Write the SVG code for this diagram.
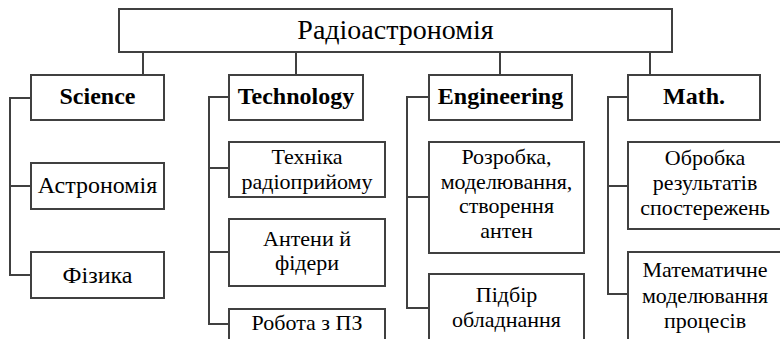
<svg xmlns="http://www.w3.org/2000/svg" width="780" height="339" viewBox="0 0 780 339" font-family="Liberation Serif, Times New Roman, Times, serif">
<style>
rect{fill:#fff;stroke:#404040;stroke-width:2}
.c{fill:none;stroke:#404040;stroke-width:2}
text{fill:#000;text-anchor:middle}
.t{font-size:28px}
.h{font-size:24px;font-weight:bold}
.n{font-size:22px}
.s{font-size:24px}
</style>
<rect x="0" y="0" width="780" height="339" style="stroke:none"/>
<g id="connectors">
<path class="c" d="M143 52V75M296 52V75M500 52V75M650 52V75"/>
<path class="c" d="M31 98H10V275H31M10 186H31"/>
<path class="c" d="M229 97H209V324H229M209 168H229M209 252H229"/>
<path class="c" d="M429 97H407V308H429M407 197H429"/>
<path class="c" d="M628 97H608V294H628M608 186H628"/>
</g>
<g id="root"><rect x="119" y="9" width="553" height="43"/><text class="t" x="395.5" y="39" font-family="Liberation Serif">Радіоастрономія</text></g>
<g id="science"><rect x="31" y="75" width="133" height="45"/><text class="h" x="97.5" y="104">Science</text></g>
<g id="technology"><rect x="229" y="75" width="134" height="45"/><text class="h" x="296" y="104">Technology</text></g>
<g id="engineering"><rect x="429" y="75" width="143" height="45"/><text class="h" x="500.5" y="104">Engineering</text></g>
<g id="math"><rect x="628" y="75" width="132" height="45"/><text class="h" x="694" y="104">Math.</text></g>
<g id="astronomy"><rect x="31" y="163" width="133" height="46"/><text class="s" x="97.5" y="193">Астрономія</text></g>
<g id="physics"><rect x="31" y="252" width="133" height="46"/><text class="s" x="97.5" y="283">Фізика</text></g>
<g id="reception"><rect x="229" y="142" width="156" height="55"/><text class="n" x="307" y="164">Техніка</text><text class="n" x="307" y="189">радіоприйому</text></g>
<g id="antennas"><rect x="229" y="219" width="156" height="67"/><text class="n" x="307" y="246">Антени й</text><text class="n" x="307" y="270">фідери</text></g>
<g id="software"><rect x="229" y="309" width="156" height="45"/><text class="n" x="307" y="330">Робота з ПЗ</text></g>
<g id="design"><rect x="429" y="142" width="155" height="111"/><text class="n" x="506.5" y="164">Розробка,</text><text class="n" x="506.5" y="189">моделювання,</text><text class="n" x="506.5" y="213">створення</text><text class="n" x="506.5" y="238">антен</text></g>
<g id="equipment"><rect x="429" y="274" width="155" height="80"/><text class="n" x="506.5" y="302">Підбір</text><text class="n" x="506.5" y="327">обладнання</text></g>
<g id="processing"><rect x="628" y="142" width="154" height="87"/><text class="n" x="705" y="165">Обробка</text><text class="n" x="705" y="190">результатів</text><text class="n" x="705" y="215">спостережень</text></g>
<g id="modeling"><rect x="628" y="252" width="154" height="100"/><text class="n" x="705" y="277">Математичне</text><text class="n" x="705" y="303">моделювання</text><text class="n" x="705" y="328">процесів</text></g>
</svg>
